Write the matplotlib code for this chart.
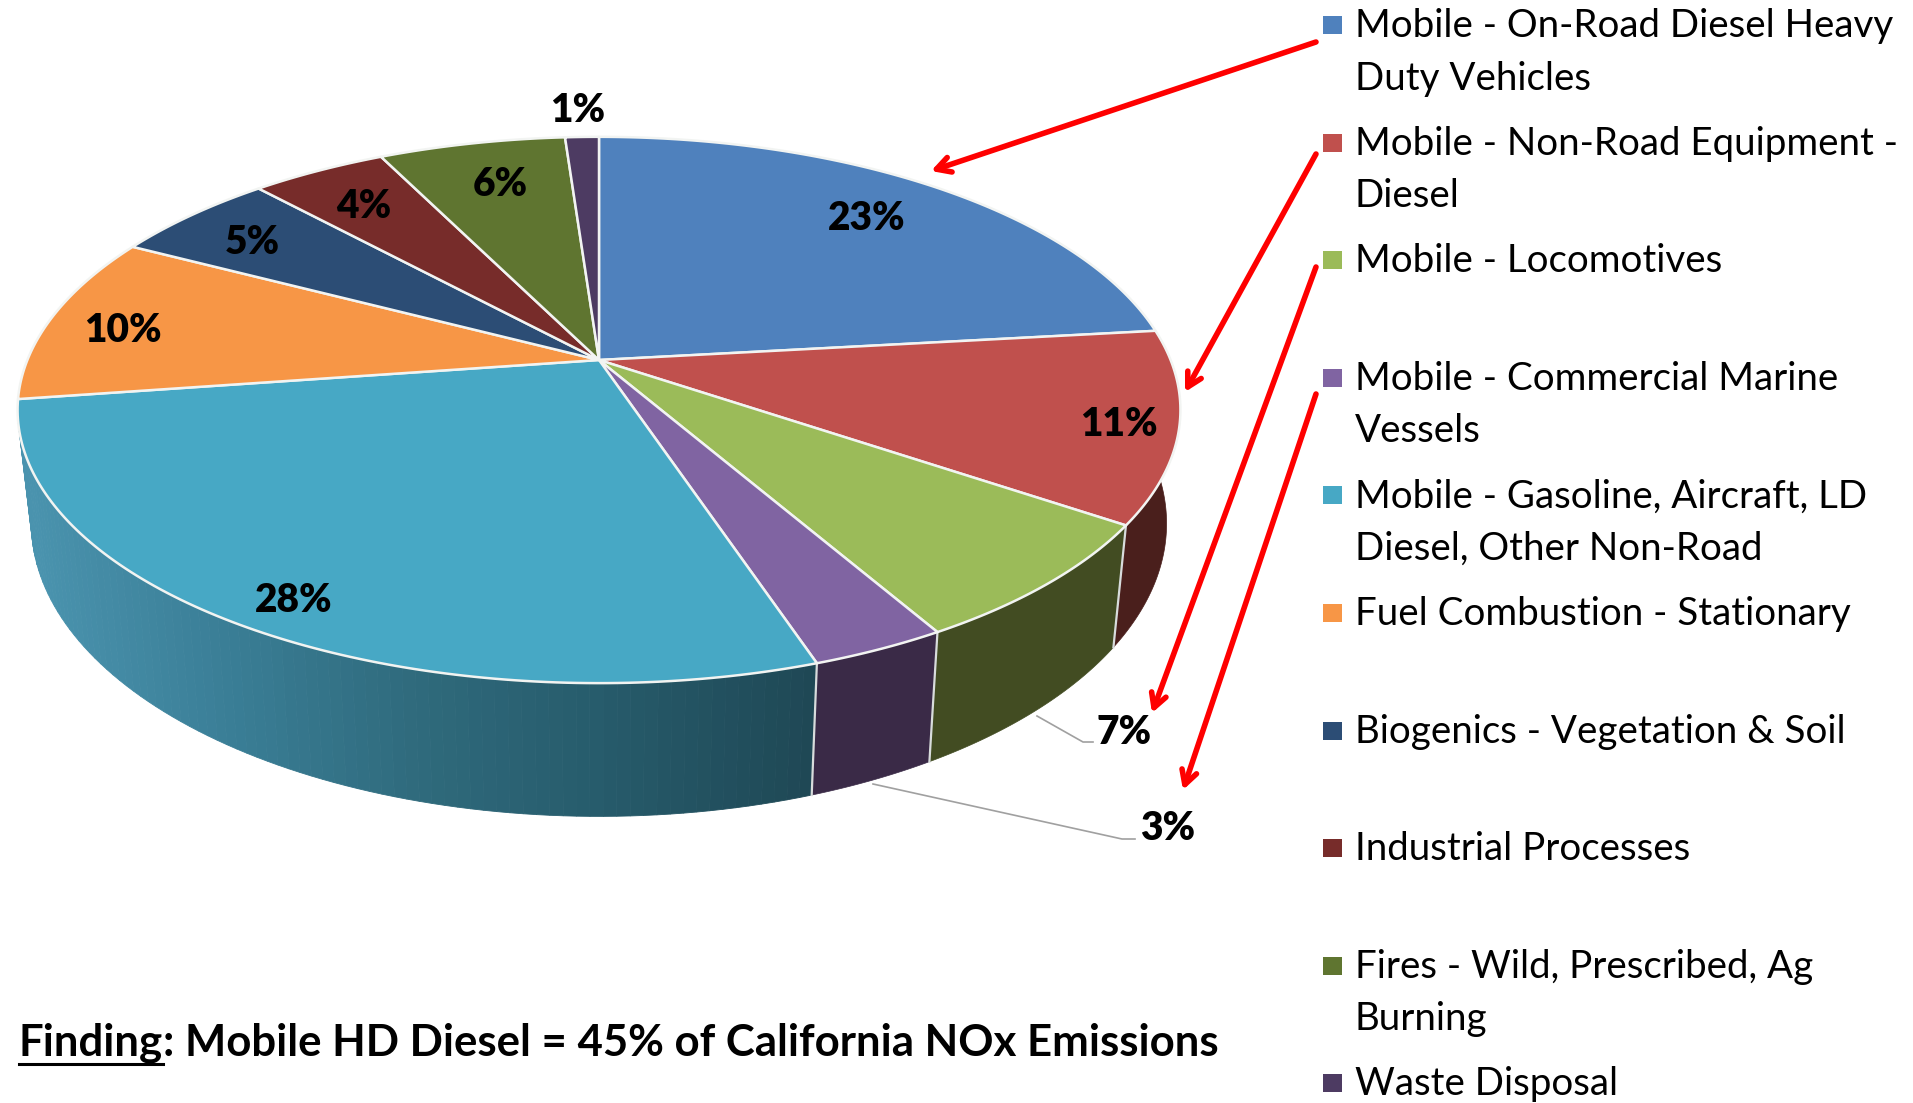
"""Perspective 3D pie of California NOx emissions by source."""

import numpy as np
import matplotlib
matplotlib.use('Agg')
import matplotlib.pyplot as plt
from matplotlib.colors import LinearSegmentedColormap

# ── Data ─────────────────────────────────────────────────────────────────
sources = [
    'Mobile - On-Road Diesel Heavy\nDuty Vehicles',
    'Mobile - Non-Road Equipment -\nDiesel',
    'Mobile - Locomotives',
    'Mobile - Commercial Marine\nVessels',
    'Mobile - Gasoline, Aircraft, LD\nDiesel, Other Non-Road',
    'Fuel Combustion - Stationary',
    'Biogenics - Vegetation & Soil',
    'Industrial Processes',
    'Fires - Wild, Prescribed, Ag\nBurning',
    'Waste Disposal',
]
shares = [23.2, 11.3, 7.2, 3.2, 27.8, 10.0, 5.49, 4.49, 6.2, 1.12]
finding_lead = 'Finding'
finding_rest = ': Mobile HD Diesel = 45% of California NOx Emissions'

# ── Style ────────────────────────────────────────────────────────────────
top_colors = ['#4f81bd', '#c0504d', '#9bbb59', '#8064a2', '#47a8c5',
              '#f79646', '#2c4d75', '#772c2a', '#5f7530', '#4d3b62']
wall_colors = {1: '#4a1f1c', 2: '#424c22', 3: '#3a2a47'}
gasoline_wall = LinearSegmentedColormap.from_list(
    'gasoline_wall', ['#4a93ae', '#3a7e96', '#2f6a7c', '#265a6a', '#1f4855'])
label_xy = [(867, 218), (1119, 424), (1124, 732), (1168, 828), (294, 600),
            (123, 330), (252, 242), (364, 206), (500, 184), (578, 110)]
arrows = [((1316, 42), (931, 171)), ((1316, 154), (1185, 392)),
          ((1316, 267), (1152, 713)), ((1316, 394), (1183, 790))]

CX, CY, A, B = 599, 360, 571.6, 264.0
CY2, A2, B2 = 470, 558.0, 283.0
K = 0.183


def project(theta, cy, a, b):
    """Circle angle (clockwise from 12 o'clock) to the tilted pie plane."""
    u, v = np.sin(theta), np.cos(theta)
    den = 1 + K * v
    return CX + a * u / den, cy - b * v / den


fig = plt.figure(figsize=(19.13, 11.03), dpi=100, facecolor='white')
ax = fig.add_axes([0, 0, 1, 1])
ax.set_xlim(0, 1913)
ax.set_ylim(1103, 0)
ax.axis('off')

edges = np.r_[0, np.cumsum(shares)] / np.sum(shares) * 2 * np.pi

# ── Side wall ────────────────────────────────────────────────────────────
for i in [1, 2, 3, 4]:
    th = np.linspace(edges[i], edges[i + 1], 90)
    xt, yt = project(th, CY, A, B)
    xb, yb = project(th, CY2, A2, B2)
    if i in wall_colors:
        ax.fill(np.r_[xt, xb[::-1]], np.r_[yt, yb[::-1]],
                color=wall_colors[i], lw=0.5, zorder=1)
    else:
        for j in range(len(th) - 1):
            # light on the far left, dark towards the front right
            c = gasoline_wall(np.clip((xt[j] - 30) / 790, 0, 1))
            ax.fill([xt[j], xt[j + 1], xb[j + 1], xb[j]],
                    [yt[j], yt[j + 1], yb[j + 1], yb[j]],
                    color=c, lw=0.6, zorder=1)

for i in [2, 3, 4]:
    x0, y0 = project(edges[i], CY, A, B)
    x1, y1 = project(edges[i], CY2, A2, B2)
    ax.plot([x0, x1], [y0, y1], color='#d8dcdc', lw=1.6, zorder=2)

# ── Top face ─────────────────────────────────────────────────────────────
for i, color in enumerate(top_colors):
    th = np.linspace(edges[i], edges[i + 1], 120)
    x, y = project(th, CY, A, B)
    ax.fill(np.r_[CX, x], np.r_[CY, y], facecolor=color,
            edgecolor='#f2f4f2', lw=1.8, joinstyle='round', zorder=3)

for (x, y), share in zip(label_xy, shares):
    ax.text(x, y, f'{share:.0f}%', ha='center', va='center', fontsize=28,
            fontweight='heavy', family='Lato', zorder=5)

# ── Leader lines and red call-outs ───────────────────────────────────────
ax.plot([1037, 1083, 1093], [716, 742, 742], color='#a0a0a0', lw=1.2, zorder=2)
ax.plot([873, 1122, 1135], [784, 839, 839], color='#a0a0a0', lw=1.2, zorder=2)

for start, tip in arrows:
    ax.annotate('', xy=tip, xytext=start, zorder=6,
                arrowprops=dict(arrowstyle='->,head_length=1.0,head_width=0.55',
                                color='#fe0000', lw=4.0,
                                shrinkA=0, shrinkB=0))

# ── Legend ───────────────────────────────────────────────────────────────
for i, (name, color) in enumerate(zip(sources, top_colors)):
    y = 25 + i * 117.6
    ax.fill([1323, 1342, 1342, 1323], [y - 9, y - 9, y + 9, y + 9],
            color=color, lw=0, zorder=4)
    ax.text(1355, y - 17, name, ha='left', va='top', fontsize=27.7,
            family='Lato', linespacing=1.57, zorder=5)

# ── Finding line ─────────────────────────────────────────────────────────
lead = ax.text(19, 1043, finding_lead, ha='left', va='center', fontsize=31.5,
               fontweight='bold', family='Lato', zorder=5)
ax.annotate(finding_rest, xy=(1, 0), xycoords=lead, xytext=(0, 0),
            textcoords='offset points', ha='left', va='bottom', fontsize=31.5,
            fontweight='bold', family='Lato', zorder=5)
fig.canvas.draw()
box = lead.get_window_extent().transformed(ax.transData.inverted())
ax.plot([box.x0, box.x1], [1064, 1064], color='black', lw=2.2, zorder=5)

fig.savefig('out.png', dpi=100)
